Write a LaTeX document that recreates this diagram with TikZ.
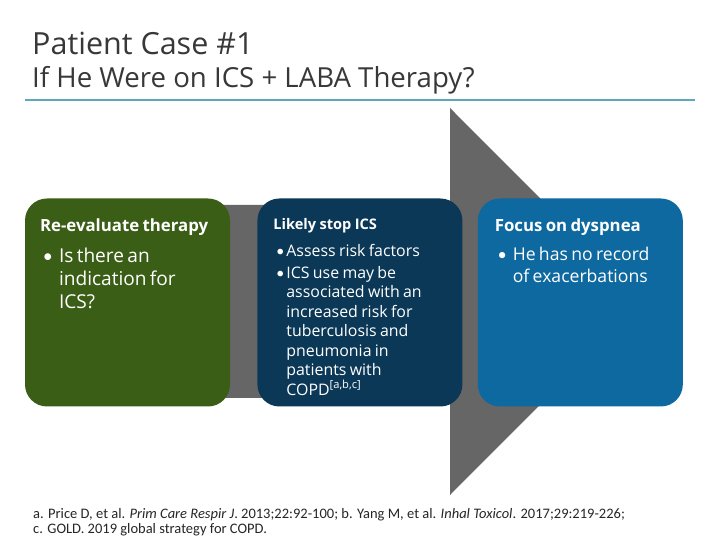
\documentclass[tikz,border=0pt]{standalone}
\usepackage{fontspec}
\setmainfont{Open Sans}
\newfontfamily\reffont{Carlito}
\definecolor{casegreen}{RGB}{59, 94, 23}
\definecolor{casenavy}{RGB}{11, 56, 86}
\definecolor{caseblue}{RGB}{13, 105, 160}
\definecolor{arrowgray}{RGB}{102, 102, 102}
\definecolor{ruleteal}{RGB}{95, 168, 188}
\definecolor{titlegray}{RGB}{56, 56, 56}
\usetikzlibrary{positioning}
\newcommand{\bitem}[2]{\par\hangindent=#1\hangafter=1\noindent\makebox[#1][l]{\hspace{3pt}{\reffont\textbullet}}#2}

\begin{document}
\begin{tikzpicture}[x=1pt, y=1pt,
  card/.style={rounded corners=22pt, minimum width=205pt, minimum height=208pt, inner sep=0pt},
  cardtext/.style={text=white, text width=182pt, align=left, inner sep=0pt},
  heading/.style={anchor=base west, inner sep=0pt, text=titlegray},
  refline/.style={anchor=base west, inner sep=0pt, text=black!85, font=\reffont\fontsize{14.5}{16}\selectfont}
]
  \useasboundingbox (0,0) rectangle (720,540);
  \fill[white] (0,0) rectangle (720,540);

  \node[heading, font=\fontsize{30.5}{34}\selectfont] (title) at (32,485) {Patient Case \#1};
  \node[heading, font=\fontsize{27.6}{32}\selectfont] (subtitle) at (32,452) {If He Were on ICS + LABA Therapy?};
  \draw[ruleteal, line width=1.5pt] (25,440) -- (695,440);

  % big arrow behind the cards
  \fill[arrowgray] (210,335) -- (450,335) -- (450,432) -- (643,238.5) -- (450,45) -- (450,142) -- (210,142) -- cycle;

  \node[card, fill=casegreen] (reeval) at (127.5,237.5) {};
  \node[card, fill=casenavy, right=27pt of reeval] (stopics) {};
  \node[card, fill=caseblue, right=15pt of stopics] (dyspnea) {};

  \node[cardtext, below right=20pt and 15pt of reeval.north west] (reevaltext) {
    {\fontsize{16.8}{22}\selectfont\bfseries Re-evaluate therapy\par}
    \vspace{8pt}
    {\fontsize{19.1}{23}\selectfont
    \bitem{19pt}{Is there an\newline indication for\newline ICS?}\par}
  };
  \node[cardtext, below right=20pt and 16pt of stopics.north west] (stopicstext) {
    {\fontsize{14.6}{19}\selectfont\bfseries Likely stop ICS\par}
    \vspace{7pt}
    {\fontsize{15.9}{19.5}\selectfont
    \bitem{13pt}{Assess risk factors}\par
    \vspace{2.5pt}
    \bitem{13pt}{ICS use may be\newline associated with an\newline increased risk for\newline tuberculosis and\newline pneumonia in\newline patients with\newline COPD\textsuperscript{[a,b,c]}}\par}
  };
  \node[cardtext, below right=20pt and 17pt of dyspnea.north west] (dyspneatext) {
    {\fontsize{16.8}{22}\selectfont\bfseries Focus on dyspnea\par}
    \vspace{7pt}
    {\fontsize{17.6}{22}\selectfont
    \bitem{18pt}{He has no record\newline of exacerbations}\par}
  };

  % references
  \node[refline] (refab) at (33,21)
    {a. Price D, et al. \textit{Prim Care Respir J}. 2013;22:92-100; b. Yang M, et al. \textit{Inhal Toxicol}. 2017;29:219-226;};
  \node[refline] (refc) at (33,6)
    {c. GOLD. 2019 global strategy for COPD.};
\end{tikzpicture}
\end{document}
